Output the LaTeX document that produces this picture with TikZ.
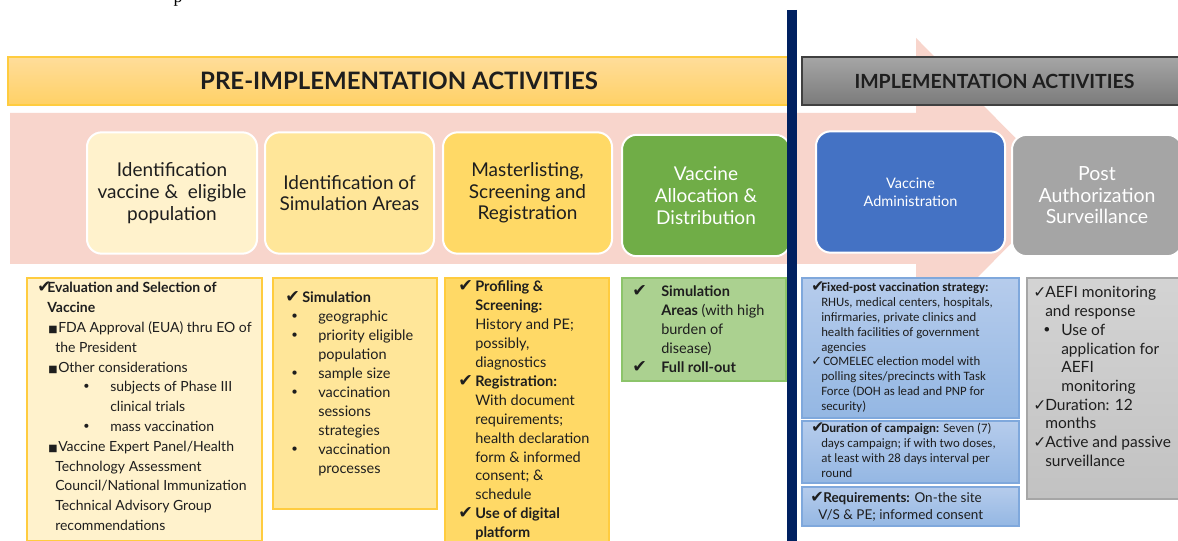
\documentclass[tikz,border=0pt]{standalone}
\usepackage{fontspec}
\setmainfont{Lato}
\newfontfamily\carl{Carlito}
\newfontfamily\dv{DejaVu Sans}
\newfontfamily\tnr{Liberation Serif}
\newlength\px \setlength\px{0.75pt}
\newcommand\fs[2]{\fontsize{#1\px}{#2\px}\selectfont}
\newcommand\ckb{{\dv\scalebox{1.2}{✔}}}
\newcommand\ckl{{\dv ✓}}
\newcommand\sqb{{\dv\scalebox{0.7}{■}}}
\newcommand\bul{{\dv •}}
\definecolor{pinkA}{HTML}{F8D5CC}
\definecolor{navy}{HTML}{002060}
\definecolor{yA}{HTML}{FFF2CC}
\definecolor{yB}{HTML}{FFE699}
\definecolor{yC}{HTML}{FFD966}
\definecolor{ybd}{HTML}{FFCC3F}
\definecolor{hdT}{HTML}{FFDD9A}
\definecolor{hdB}{HTML}{FFD166}
\definecolor{grn}{HTML}{70AD47}
\definecolor{grnL}{HTML}{ABD190}
\definecolor{grnB}{HTML}{8CC46A}
\definecolor{blu}{HTML}{4472C4}
\definecolor{bluT}{HTML}{B6CCEC}
\definecolor{bluB}{HTML}{94B7E3}
\definecolor{bluBd}{HTML}{7FA8DC}
\definecolor{gry}{HTML}{A5A5A5}
\definecolor{txt}{HTML}{1E1E1E}
\tikzset{
  topbox/.style={draw=white, line width=1.5pt, rounded corners=11pt, align=center, inner sep=0pt, minimum height=91pt, font=\fs{19}{21.7}, text=txt},
  botbox/.style={anchor=north west, inner sep=0pt, line width=1.2pt},
  btxt/.style={anchor=base west, inner sep=0pt, text=txt},
  hdr/.style={inner sep=0pt, minimum height=36pt},
}
\begin{document}
\begin{tikzpicture}[x=0.75pt,y=-0.75pt]
\useasboundingbox (0,0) rectangle (1178,541);
\clip (0,0) rectangle (1178,541);
\fill[white] (0,0) rectangle (1178,541);
% cropped glyph at top
\node[anchor=base, inner sep=0pt, font=\tnr\fs{18}{20}] (ptop) at (178,3) {p};
% big pink arrow
\fill[pinkA] (10,113) -- (916,113) -- (916,38) -- (1066,188.5) -- (916,339) -- (916,264) -- (10,264) -- cycle;
% headers
\node[hdr, draw=ybd, line width=1.2pt, top color=hdT, bottom color=hdB, minimum width=586.5pt, font=\bfseries\fs{24}{26}, text=txt] (pre) at (399,81) {PRE-IMPLEMENTATION ACTIVITIES};
\node[hdr, draw=black!75, line width=1.2pt, top color=black!35, bottom color=black!52, minimum width=288.75pt, font=\bfseries\fs{19.5}{22}, text=txt] (impl) at (994.5,81) {IMPLEMENTATION ACTIVITIES};
% top process boxes
\node[topbox, fill=yA, minimum width=127.5pt] (t1) at (172,193) {Identification\\vaccine \&\ \ eligible\\population};
\node[topbox, fill=yB, minimum width=126.75pt] (t2) at (349.5,193) {Identification of\\Simulation Areas};
\node[topbox, fill=yC, minimum width=126.75pt] (t3) at (527.5,193) {Masterlisting,\\Screening and\\Registration};
\node[topbox, fill=grn, minimum width=126pt, text=white] (t4) at (706,195.5) {Vaccine\\Allocation \&\\Distribution};
\node[topbox, fill=blu, minimum width=141.75pt, text=white, font=\fs{14.5}{18}] (t5) at (910.5,192) {Vaccine\\Administration};
\node[topbox, fill=gry, minimum width=127.5pt, text=white, font=\fs{19.5}{21.5}] (t6) at (1097,195.5) {\raisebox{5\px}{\parbox{120\px}{\centering Post\\Authorization\\Surveillance}}};
% bottom boxes
\node[botbox, draw=ybd, fill=yA, minimum width=176.25pt, minimum height=197.25pt] (b1) at (26,277) {};
\node[botbox, draw=ybd, fill=yB, minimum width=123pt, minimum height=173.25pt] (b2) at (272,277) {};
\node[botbox, draw=ybd, fill=yC, minimum width=123pt, minimum height=201pt] (b3) at (444,277) {};
\node[botbox, draw=grnB, fill=grnL, minimum width=123pt, minimum height=77.25pt] (b4) at (621,277) {};
\node[botbox, draw=bluBd, top color=bluT, bottom color=bluB, minimum width=162.75pt, minimum height=105pt] (b5) at (801,277) {};
\node[botbox, draw=bluBd, top color=bluT, bottom color=bluB, minimum width=162.75pt, minimum height=46.5pt] (b6) at (801,420) {};
\node[botbox, draw=bluBd, top color=bluT, bottom color=bluB, minimum width=162.75pt, minimum height=29.25pt] (b7) at (801,486) {};
\node[botbox, draw=black!35, top color=black!17, bottom color=black!24, minimum width=120pt, minimum height=165.75pt] (b8) at (1026,277) {};
% bottom texts
\node[btxt] (b1t) at (37,293) {\parbox[t]{300\px}{\fs{14}{19.8}\raggedright
\makebox[10\px][l]{\ckb}\textbf{Evaluation and Selection of}\\
\hspace*{10\px}\textbf{Vaccine}\\
\hspace*{11\px}\makebox[10\px][l]{\sqb}FDA Approval (EUA) thru EO of\\
\hspace*{18\px}the President\\
\hspace*{11\px}\makebox[10\px][l]{\sqb}Other considerations\\
\hspace*{45\px}\makebox[28\px][l]{\bul}subjects of Phase III\\
\hspace*{73\px}clinical trials\\
\hspace*{45\px}\makebox[28\px][l]{\bul}mass vaccination\\
\hspace*{11\px}\makebox[10\px][l]{\sqb}Vaccine Expert Panel/Health\\
\hspace*{18\px}Technology Assessment\\
\hspace*{18\px}Council/National Immunization\\
\hspace*{18\px}Technical Advisory Group\\
\hspace*{18\px}recommendations}};
\node[btxt] (b2t) at (285,303) {\parbox[t]{300\px}{\fs{14.5}{19}\raggedright
\makebox[17\px][l]{\ckb}\textbf{Simulation}\\
\hspace*{5\px}\makebox[28\px][l]{\bul}geographic\\
\hspace*{5\px}\makebox[28\px][l]{\bul}priority eligible\\
\hspace*{33\px}population\\
\hspace*{5\px}\makebox[28\px][l]{\bul}sample size\\
\hspace*{5\px}\makebox[28\px][l]{\bul}vaccination\\
\hspace*{33\px}sessions\\
\hspace*{33\px}strategies\\
\hspace*{5\px}\makebox[28\px][l]{\bul}vaccination\\
\hspace*{33\px}processes}};
\node[btxt] (b3t) at (458,292) {\parbox[t]{300\px}{\fs{14.5}{18.9}\raggedright
\makebox[17\px][l]{\ckb}\textbf{Profiling \&}\\
\hspace*{17\px}\textbf{Screening:}\\
\hspace*{17\px}History and PE;\\
\hspace*{17\px}possibly,\\
\hspace*{17\px}diagnostics\\
\makebox[17\px][l]{\ckb}\textbf{Registration:}\\
\hspace*{17\px}With document\\
\hspace*{17\px}requirements;\\
\hspace*{17\px}health declaration\\
\hspace*{17\px}form \& informed\\
\hspace*{17\px}consent; \&\\
\hspace*{17\px}schedule\\
\makebox[17\px][l]{\ckb}\textbf{Use of digital}\\
\hspace*{17\px}\textbf{platform}}};
\node[btxt] (b4t) at (632,297) {\parbox[t]{300\px}{\fs{14.5}{18.8}\raggedright
\makebox[29\px][l]{\ckb}\textbf{Simulation}\\
\hspace*{29\px}\textbf{Areas} (with high\\
\hspace*{29\px}burden of\\
\hspace*{29\px}disease)\\
\makebox[29\px][l]{\ckb}\textbf{Full roll-out}}};
\node[btxt] (b5t) at (811,292) {\parbox[t]{300\px}{\carl\fs{12.8}{14.8}\raggedright
\makebox[10\px][l]{\ckb}\textbf{Fixed-post vaccination strategy:}\\
\hspace*{10\px}RHUs, medical centers, hospitals,\\
\hspace*{10\px}infirmaries, private clinics and\\
\hspace*{10\px}health facilities of government\\
\hspace*{10\px}agencies\\
\makebox[12\px][l]{\ckl}COMELEC election model with\\
\hspace*{10\px}polling sites/precincts with Task\\
\hspace*{10\px}Force (DOH as lead and PNP for\\
\hspace*{10\px}security)}};
\node[btxt] (b6t) at (811,433) {\parbox[t]{300\px}{\carl\fs{12.8}{14.8}\raggedright
\makebox[10\px][l]{\ckb}\textbf{Duration of campaign:} Seven (7)\\
\hspace*{10\px}days campaign; if with two doses,\\
\hspace*{10\px}at least with 28 days interval per\\
\hspace*{10\px}round}};
\node[btxt] (b7t) at (810,502) {\parbox[t]{300\px}{\fs{13.5}{17.3}\raggedright
\makebox[13\px][l]{\ckb}\textbf{Requirements:} On-the site\\
\hspace*{8\px}V/S \& PE; informed consent}};
\node[btxt] (b8t) at (1033,298) {\parbox[t]{300\px}{\fs{15.5}{18.7}\raggedright
\makebox[12\px][l]{\ckl}AEFI monitoring\\
\hspace*{12\px}and response\\
\hspace*{9\px}\makebox[19\px][l]{\bul}Use of\\
\hspace*{28\px}application for\\
\hspace*{28\px}AEFI\\
\hspace*{28\px}monitoring\\
\makebox[12\px][l]{\ckl}Duration: 12\\
\hspace*{12\px}months\\
\makebox[12\px][l]{\ckl}Active and passive\\
\hspace*{12\px}surveillance}};
% navy divider
\coordinate (dtop) at (792,10);
\coordinate (dbot) at (792,545);
\draw[navy, line width=7.5pt] (dtop) -- (dbot);
\end{tikzpicture}
\end{document}
